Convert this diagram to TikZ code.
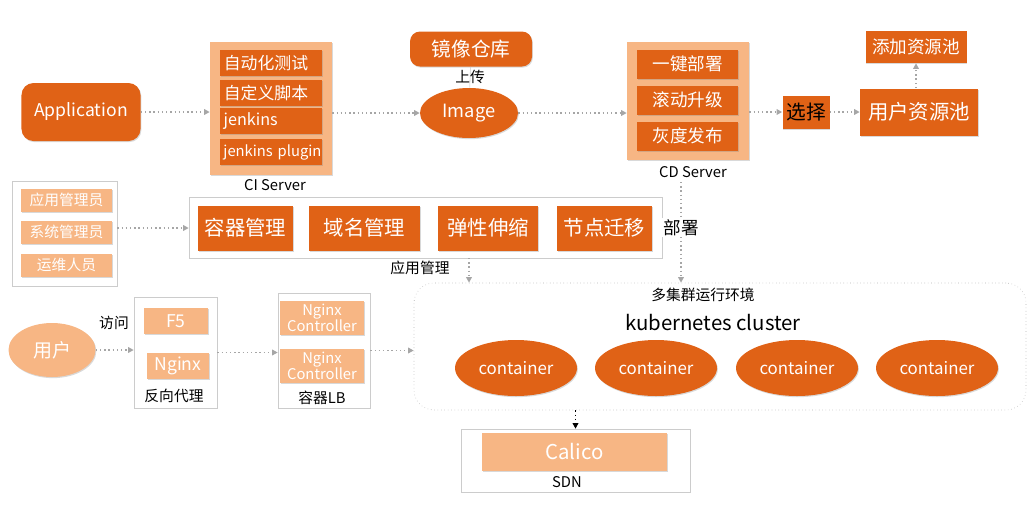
\documentclass[tikz,border=0pt]{standalone}
\usepackage{fontspec}
\setmainfont{Noto Sans CJK SC}
\usepackage{tikz}
\usepackage{xcolor}
\usetikzlibrary{shapes.geometric,arrows.meta,shadows}
\definecolor{korange}{RGB}{224,98,22}
\definecolor{lorange}{RGB}{247,182,132}
\newcommand{\fsz}[1]{\fontsize{#1}{#1}\selectfont}

\begin{document}
\begin{tikzpicture}[
	darkbox/.style={fill=korange, text=white, inner sep=0pt, drop shadow={shadow xshift=0.6pt, shadow yshift=-0.8pt, opacity=0.3}},
	lightbox/.style={fill=lorange, text=white, inner sep=0pt, drop shadow={shadow xshift=0.6pt, shadow yshift=-0.8pt, opacity=0.3}},
	panel/.style={draw=gray!40, fill=white, inner sep=0pt, drop shadow={shadow xshift=1pt, shadow yshift=-1pt, opacity=0.25}},
	lightpanel/.style={fill=lorange, inner sep=0pt, drop shadow={shadow xshift=1pt, shadow yshift=-1pt, opacity=0.3}},
	cibox/.style={darkbox, minimum height=0.65cm, text width=2.5cm, inner xsep=0.025cm, align=left, font=\fsz{12}},
	cdbox/.style={darkbox, minimum width=2.525cm, minimum height=0.725cm, font=\fsz{12.5}},
	mgmtbox/.style={darkbox, minimum height=1.125cm, font=\fsz{14.5}},
	rolebox/.style={lightbox, minimum width=2.275cm, minimum height=0.575cm, font=\fsz{10.5}},
	lbl/.style={font=\fsz{10.5}},
	flow/.style={draw=gray!70, dotted, line width=1pt, -{Triangle[length=4pt,width=4pt]}},
]
	\useasboundingbox (0,0) rectangle (25.8,-12.75);

	\node[darkbox, rounded corners=0.3cm, minimum width=2.975cm, minimum height=1.45cm, font=\fsz{12.5}] (app) at (2.025,-2.8) {Application};

	\node[lightpanel, minimum width=3.05cm, minimum height=3.325cm] (ci) at (6.775,-2.7125) {};
	\node[cibox] (ci1) at (6.775,-1.575) {\,自动化测试};
	\node[cibox] (ci2) at (6.775,-2.325) {\,自定义脚本};
	\node[cibox, font=\fsz{11.5}] (ci3) at (6.775,-3.025) {\,jenkins};
	\node[cibox, font=\fsz{10.5}] (ci4) at (6.775,-3.8) {\mbox{\,jenkins plugin}};
	\node[lbl] (cilbl) at (6.875,-4.625) {CI Server};

	\node[darkbox, rounded corners=0.25cm, minimum width=3.05cm, minimum height=0.875cm, font=\fsz{14}] (repo) at (11.775,-1.225) {镜像仓库};
	\node[darkbox, ellipse, minimum width=2.45cm, minimum height=1.25cm, font=\fsz{13}] (img) at (11.725,-2.825) {Image};

	\node[lightpanel, minimum width=3.05cm, minimum height=2.95cm] (cd) at (17.2,-2.525) {};
	\node[cdbox] (cd1) at (17.19,-1.6) {一键部署};
	\node[cdbox] (cd2) at (17.19,-2.5) {滚动升级};
	\node[cdbox] (cd3) at (17.19,-3.4) {灰度发布};
	\node[lbl] (cdlbl) at (17.325,-4.3) {CD Server};

	\node[darkbox, text=black, minimum width=1.175cm, minimum height=0.825cm, font=\fsz{14}] (sel) at (20.15,-2.8) {选择};
	\node[darkbox, minimum width=2.95cm, minimum height=1.175cm, font=\fsz{14.5}] (pool) at (22.975,-2.8) {用户资源池};
	\node[darkbox, minimum width=2.525cm, minimum height=0.8cm, font=\fsz{12.5}] (addpool) at (22.9,-1.175) {添加资源池};

	\node[panel, minimum width=2.625cm, minimum height=2.625cm] (roles) at (1.6125,-5.8375) {};
	\node[rolebox] (r1) at (1.6625,-5.0) {应用管理员};
	\node[rolebox] (r2) at (1.6625,-5.8) {系统管理员};
	\node[rolebox] (r3) at (1.6625,-6.625) {运维人员};

	\node[panel, minimum width=11.825cm, minimum height=1.525cm] (mgmt) at (10.6375,-5.6875) {};
	\node[mgmtbox, minimum width=2.375cm] (m1) at (6.1375,-5.7) {容器管理};
	\node[mgmtbox, minimum width=2.775cm] (m2) at (9.1125,-5.7) {域名管理};
	\node[mgmtbox, minimum width=2.5cm] (m3) at (12.2,-5.7) {弹性伸缩};
	\node[mgmtbox, minimum width=2.375cm] (m4) at (15.1125,-5.7) {节点迁移};
	\node[lbl] (mgmtlbl) at (10.5,-6.7) {应用管理};

	\node[draw=gray!60, dotted, rounded corners=0.5cm, minimum width=15.3cm, minimum height=3.175cm] (cluster) at (18.0,-8.6625) {};
	\node[lbl] (envlbl) at (17.575,-7.375) {多集群运行环境};
	\node[font=\fsz{14.5}] (k8s) at (17.825,-8.075) {kubernetes cluster};
	\foreach \x/\n in {12.9/1,16.4/2,19.925/3,23.425/4}
		\node[darkbox, ellipse, minimum width=3.05cm, minimum height=1.4cm, font=\fsz{12}] (c\n) at (\x,-9.2) {container};

	\node[lightbox, ellipse, minimum width=2.175cm, minimum height=1.35cm, font=\fsz{13.5}] (user) at (1.3,-8.75) {用户};
	\node[lbl] (visit) at (2.85,-8.075) {访问};

	\node[panel, minimum width=2.075cm, minimum height=2.775cm] (proxy) at (4.3875,-8.8125) {};
	\node[lightbox, minimum width=1.6cm, minimum height=0.65cm, font=\fsz{12.5}] (f5) at (4.4,-8.025) {F5};
	\node[lightbox, minimum width=1.55cm, minimum height=0.65cm, font=\fsz{12.5}] (ngx) at (4.45,-9.15) {Nginx};
	\node[lbl] (proxylbl) at (4.35,-9.9) {反向代理};

	\node[panel, minimum width=2.3cm, minimum height=2.875cm] (lb) at (8.1,-8.7625) {};
	\node[lightbox, minimum width=2.1cm, minimum height=0.85cm, align=center, font=\fontsize{10.5}{11.5}\selectfont] (nc1) at (8.05,-7.95) {Nginx\\Controller};
	\node[lightbox, minimum width=2.1cm, minimum height=0.85cm, align=center, font=\fontsize{10.5}{11.5}\selectfont] (nc2) at (8.05,-9.15) {Nginx\\Controller};
	\node[lbl] (lblbl) at (8.05,-9.95) {容器LB};

	\node[panel, minimum width=5.725cm, minimum height=1.575cm] (sdn) at (14.3875,-11.5125) {};
	\node[lightbox, minimum width=4.625cm, minimum height=0.95cm, font=\fsz{14.5}] (calico) at (14.3625,-11.3) {Calico};
	\node[lbl] (sdnlbl) at (14.175,-12.05) {SDN};

	\coordinate (mgmtout) at (11.725,-6.45);
	\coordinate (cdout) at (17.025,-4.55);

	\draw[flow] (app.east) -- (app.east -| ci.west);
	\draw[flow] (ci.east |- img) -- (img);
	\draw[flow] (img) -- (img -| cd.west);
	\draw[gray!40] (repo) -- (img) node[midway, lbl, text=black] {上传};
	\draw[flow] (cd.east |- sel) -- (sel);
	\draw[flow] (sel) -- (pool);
	\draw[flow] (pool.north -| addpool) -- (addpool);
	\draw[flow] (roles.east |- m1) -- (m1 -| mgmt.west);
	\draw[flow] (mgmtout) -- (mgmtout |- cluster.north);
	\draw[flow] (cdout) -- (cdout |- cluster.north) node[pos=0.455, fill=white, inner sep=1pt, text=black, font=\fsz{12.5}] {部署};
	\draw[flow] (user) -- (user -| proxy.west);
	\draw[flow] (proxy) -- (proxy -| lb.west);
	\draw[flow] (lb) -- (lb -| cluster.west);
	\draw[flow, draw=black] (cluster.south -| sdn.north) -- (sdn.north);
\end{tikzpicture}
\end{document}
